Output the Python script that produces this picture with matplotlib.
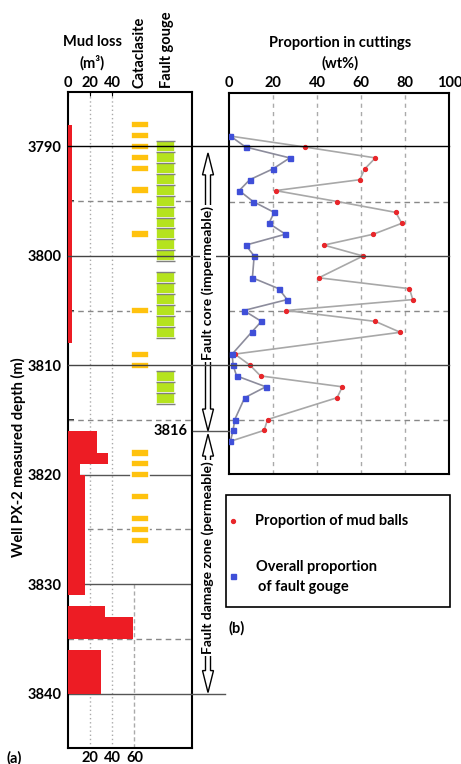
import numpy as np
import matplotlib
matplotlib.use("Agg")
import matplotlib.pyplot as plt
import matplotlib.transforms as mtransforms
from matplotlib.lines import Line2D
from matplotlib.patches import FancyArrow, Rectangle

plt.rcParams['font.family'] = ['Lato', 'DejaVu Sans']
plt.rcParams['font.weight'] = 'bold'
plt.rcParams['font.size'] = 10.5

# ---- data ----
# mud loss intervals (m) and volume (m3)
mud_top = [3788, 3816, 3818, 3819, 3820, 3832, 3833, 3836]
mud_bot = [3808, 3818, 3819, 3820, 3831, 3833, 3835, 3840]
mud_loss = [3, 26, 36, 11, 15, 33, 59, 30]

# lithology logs (depths of 1 m samples)
cataclasite = [3788, 3789, 3790, 3791, 3792, 3794, 3798, 3805, 3809, 3810,
               3818, 3819, 3820, 3822, 3824, 3825, 3826]
gouge = [3790, 3791, 3792, 3793, 3794, 3795, 3796, 3797, 3798, 3799, 3800,
         3802, 3803, 3804, 3805, 3806, 3807, 3811, 3812, 3813]

# proportion in cuttings (wt%)
cut_depth = [3789, 3790, 3791, 3792, 3793, 3794, 3795, 3796, 3797, 3798, 3799, 3800,
             3802, 3803, 3804, 3805, 3806, 3807, 3809, 3810, 3811, 3812, 3813,
             3815, 3816, 3817]
mud_balls = [0.5, 34.3, 66.4, 61.6, 59.3, 21.0, 49.0, 75.7, 78.4, 65.5, 43.0, 60.8,
             40.7, 81.9, 83.4, 25.8, 66.4, 77.7, 2.5, 9.3, 14.2, 51.4, 49.0,
             17.4, 15.8, 0.5]
gouge_prop = [0.5, 7.4, 27.5, 19.9, 9.3, 4.5, 10.8, 20.4, 18.0, 25.5, 7.5, 11.3,
              10.5, 22.5, 26.3, 6.6, 14.6, 10.1, 1.3, 1.7, 3.3, 16.6, 7.0,
              2.5, 1.7, 0.5]

RED_PT = '#e8262a'
BLUE_PT = '#3f4fd8'

W, H = 461, 764
fig = plt.figure(figsize=(W / 100, H / 100), dpi=100)


def box(x0, y0, x1, y1):
    return [x0 / W, 1 - y1 / H, (x1 - x0) / W, (y1 - y0) / H]


tpx = mtransforms.Affine2D().scale(1 / W, -1 / H).translate(0, 1) + fig.transFigure

# ---- (a) mud loss + lithology ----
ax1 = fig.add_axes(box(68.3, 91.7, 191.7, 748.3))
ax1.set_xlim(0, 112)
ax1.set_ylim(3845, 3785)
btr = mtransforms.blended_transform_factory(tpx, ax1.transData)

ax1.barh(mud_top, mud_loss, height=np.array(mud_bot) - np.array(mud_top),
         align='edge', color='#ed1c24', zorder=3)

ax1.barh(cataclasite, 16.5, left=56.5, height=0.68, color='#ffc20e',
         edgecolor='white', linewidth=1.2, zorder=4)
ax1.barh(gouge, 17.3, left=79.7, height=1.0, color='#b5e31e',
         edgecolor='white', linewidth=1.2, zorder=4)
bounds = sorted(set([d - 0.5 for d in gouge] + [d + 0.5 for d in gouge]))
ax1.hlines(bounds, 79.9, 96.8, color='#808080', lw=1, zorder=5)

for x in [20, 40]:
    ax1.axvline(x, color='#aaaaaa', lw=1, ls=(0, (1, 2)), zorder=1)
ax1.vlines(60, 3830, 3845, color='#aaaaaa', lw=1, ls=(0, (3, 2)), zorder=1)

for d in [3820, 3830, 3840]:
    ax1.axhline(d, color='#555555', lw=1, zorder=2)
for d in [3795, 3805, 3815, 3825, 3835]:
    ax1.axhline(d, color='#888888', lw=1, ls=(0, (4, 3)), zorder=2)

ax1.set_yticks(range(3790, 3841, 10))
ax1.set_yticks(range(3795, 3841, 10), minor=True)
ax1.tick_params(axis='y', which='major', length=0, pad=5)
ax1.tick_params(axis='y', which='minor', length=4, width=1.2, direction='in')
ax1.xaxis.set_ticks_position('top')
ax1.set_xticks([0, 20, 40])
ax1.tick_params(axis='x', length=3, direction='in', pad=1, colors='black')
sec = ax1.secondary_xaxis('bottom')
sec.set_xticks([20, 40, 60])
sec.tick_params(length=0, pad=2)
for s in ax1.spines.values():
    s.set_linewidth(1.5)
sec.spines['bottom'].set_visible(False)

ax1.text(108, 3816, '3816', ha='right', va='center', zorder=6)

# ---- (b) proportion in cuttings ----
ax2 = fig.add_axes(box(229.3, 92.5, 449.3, 474))
ax2.set_xlim(0, 100)
ax2.set_ylim(3820, 3785)
ax2.plot(mud_balls, cut_depth, color='#a8a8a8', lw=1.2, marker='o', ms=2.8,
         mfc=RED_PT, mec=RED_PT, zorder=3)
ax2.plot(gouge_prop, cut_depth, color='#8c8c9c', lw=1.2, marker='s', ms=3.6,
         mfc=BLUE_PT, mec=BLUE_PT, zorder=4)
for x in [20, 40, 60, 80]:
    ax2.axvline(x, color='#aaaaaa', lw=1, ls=(0, (3, 3)), zorder=1)
for d in [3795, 3805, 3815]:
    ax2.axhline(d, color='#888888', lw=1, ls=(0, (4, 3)), zorder=2)
ax2.xaxis.set_ticks_position('top')
ax2.set_xticks(range(0, 101, 20))
ax2.tick_params(axis='x', length=0, pad=2)
ax2.set_yticks([])
for s in ax2.spines.values():
    s.set_linewidth(1.5)

# lines running across both panels
for d, c in zip([3790, 3800, 3810], ['black', '#444444', '#444444']):
    fig.add_artist(Line2D([68.3, 449.3], [d, d], transform=btr, color=c, lw=1))
fig.add_artist(Line2D([193, 229], [3816, 3816], transform=btr, color='#555555', lw=1))
fig.add_artist(Line2D([191, 225], [3840, 3840], transform=btr, color='#555555', lw=1))


# zone arrows
def zone(tip_top, tip_bot, mid, label):
    for tip in [tip_top, tip_bot]:
        fig.add_artist(FancyArrow(208, mid, 0, tip - mid, width=5, head_width=11,
                                  head_length=2.0, length_includes_head=True,
                                  transform=btr, fc='white', ec='black', lw=1))
    fig.text(208, mid, label, transform=btr, rotation=90, ha='center',
             va='center', fontsize=10,
             bbox=dict(fc='white', ec='none', pad=1))


zone(3790.6, 3816.0, 3802.5, 'Fault core (impermeable)')
zone(3816.3, 3839.9, 3827.6, 'Fault damage zone (permeable)')

# headers
fig.text(92, 42, 'Mud loss', transform=tpx, ha='center', va='center')
fig.text(92, 63, '(m³)', transform=tpx, ha='center', va='center')
fig.text(139, 88, 'Cataclasite', transform=tpx, rotation=90, ha='center', va='bottom')
fig.text(167, 88, 'Fault gouge', transform=tpx, rotation=90, ha='center', va='bottom')
fig.text(340, 43, 'Proportion in cuttings', transform=tpx, ha='center', va='center')
fig.text(340, 63, '(wt%)', transform=tpx, ha='center', va='center')
fig.text(18, 457, 'Well PX-2 measured depth (m)', transform=tpx, rotation=90,
         ha='center', va='center')
fig.text(6, 758, '(a)', transform=tpx, ha='left', va='center')
fig.text(228, 628, '(b)', transform=tpx, ha='left', va='center')

# legend box (drawn by hand to match the layout)
fig.add_artist(Rectangle((226, 495), 224, 112, transform=tpx, fill=False,
                         ec='black', lw=1.2))
fig.add_artist(Line2D([233], [521], transform=tpx, ls='none', marker='o', ms=2.8,
                      color=RED_PT))
fig.add_artist(Line2D([233], [576], transform=tpx, ls='none', marker='s', ms=3.6,
                      color=BLUE_PT))
fig.text(255, 521, 'Proportion of mud balls', transform=tpx, ha='left', va='center')
fig.text(256, 567, 'Overall proportion', transform=tpx, ha='left', va='center')
fig.text(258, 587, 'of fault gouge', transform=tpx, ha='left', va='center')

fig.savefig('out.png', dpi=100)
